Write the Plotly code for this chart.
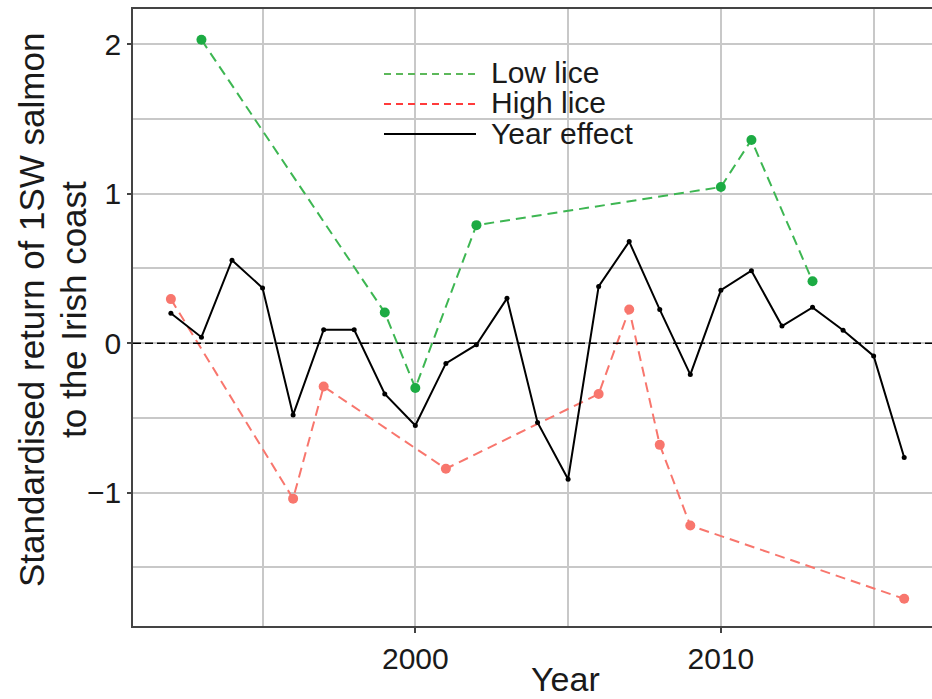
import plotly.graph_objects as go

years = list(range(1992, 2017))
year_effect = [0.20, 0.04, 0.555, 0.37, -0.48, 0.09, 0.09, -0.34, -0.55, -0.135,
               -0.01, 0.30, -0.53, -0.91, 0.38, 0.68, 0.225, -0.21, 0.355, 0.485,
               0.115, 0.24, 0.087, -0.085, -0.765]

low_years = [1993, 1999, 2000, 2002, 2010, 2011, 2013]
low_lice = [2.03, 0.205, -0.30, 0.79, 1.045, 1.36, 0.415]

high_years = [1992, 1996, 1997, 2001, 2006, 2007, 2008, 2009, 2016]
high_lice = [0.295, -1.04, -0.29, -0.84, -0.34, 0.225, -0.68, -1.22, -1.71]

legend_labels = ["Low lice", "High lice", "Year effect"]

GREEN_M = "#1cab43"
GREEN_L = "#3db652"
RED = "#f8766d"
FONT = "Liberation Sans, Arial, sans-serif"

fig = go.Figure()

fig.add_trace(go.Scatter(
    x=low_years, y=low_lice, mode="lines+markers",
    line=dict(color=GREEN_L, width=2, dash="10px,6px"),
    marker=dict(color=GREEN_M, size=10), showlegend=False))
fig.add_trace(go.Scatter(
    x=high_years, y=high_lice, mode="lines+markers",
    line=dict(color=RED, width=2, dash="10px,6px"),
    marker=dict(color=RED, size=10), showlegend=False))
fig.add_trace(go.Scatter(
    x=years, y=year_effect, mode="lines+markers",
    line=dict(color="black", width=2),
    marker=dict(color="black", size=5), showlegend=False))

# zero reference line
fig.add_shape(type="line", xref="paper", x0=0, x1=1, yref="y", y0=0, y1=0,
              line=dict(color="black", width=1.6, dash="8px,4px"), layer="above")

# page-pixel helpers (plot area: x 133..932, y 9..626)
def py(p):
    return (626 - p) / 617

def px(p):
    return (p - 133) / 799

leg_rows = [74, 104, 134]
leg_colors = ["#5cb85a", "#ff3b3b", "black"]
leg_dash = ["7px,5px", "7px,5px", "solid"]
for lab, r, c, d in zip(legend_labels, leg_rows, leg_colors, leg_dash):
    fig.add_shape(type="line", xref="paper", yref="paper",
                  x0=px(384), x1=px(476), y0=py(r), y1=py(r),
                  line=dict(color=c, width=1.8, dash=d))
    fig.add_annotation(x=px(489), y=py(r - 1), xref="paper", yref="paper",
                       text=lab, showarrow=False, xanchor="left", yanchor="middle",
                       font=dict(family=FONT, size=30, color="#1a1a1a"))

# axis titles
fig.add_annotation(x=px(31), y=py(310), xref="paper", yref="paper",
                   text="Standardised return of 1SW salmon", textangle=-90,
                   showarrow=False, xanchor="center", yanchor="middle",
                   font=dict(family=FONT, size=35, color="#1a1a1a"))
fig.add_annotation(x=px(73), y=py(310), xref="paper", yref="paper",
                   text="to the Irish coast", textangle=-90,
                   showarrow=False, xanchor="center", yanchor="middle",
                   font=dict(family=FONT, size=35, color="#1a1a1a"))
fig.add_annotation(x=px(565), y=py(679), xref="paper", yref="paper",
                   text="Year", showarrow=False, xanchor="center", yanchor="middle",
                   font=dict(family=FONT, size=34, color="#1a1a1a"))

fig.update_layout(
    width=932, height=699,
    margin=dict(l=133, r=0, t=9, b=73),
    paper_bgcolor="white", plot_bgcolor="white",
    font=dict(family=FONT, color="#1a1a1a"),
)
fig.update_xaxes(
    range=[1990.76, 2016.91], tickmode="linear", tick0=2000, dtick=10,
    showgrid=True, gridcolor="#c8c8c8", gridwidth=1.6,
    minor=dict(dtick=5, tick0=2000, showgrid=True, gridcolor="#c8c8c8", gridwidth=1.6),
    showline=True, linecolor="#444", linewidth=1.6, mirror=True,
    ticks="outside", ticklen=5, tickcolor="#444", tickwidth=1.6,
    tickfont=dict(family=FONT, size=30, color="#1a1a1a"),
    zeroline=False, automargin=False)
fig.update_yaxes(
    range=[-1.892, 2.236], tickmode="linear", tick0=0, dtick=1,
    showgrid=True, gridcolor="#c8c8c8", gridwidth=1.6,
    minor=dict(dtick=0.5, tick0=0, showgrid=True, gridcolor="#c8c8c8", gridwidth=1.6),
    showline=True, linecolor="#444", linewidth=1.6,
    ticks="outside", ticklen=4, tickcolor="#444", tickwidth=1.6,
    tickfont=dict(family=FONT, size=30, color="#1a1a1a"),
    tickvals=[-1, 0, 1, 2], ticktext=["\u22121", "0", "1", "2"],
    zeroline=False, automargin=False)

fig.write_html(
    "out.html",
    config={"displayModeBar": False},
    post_script="document.body.style.margin='0';"
                "document.body.style.overflow='hidden';"
                "document.documentElement.style.overflow='hidden';",
)
